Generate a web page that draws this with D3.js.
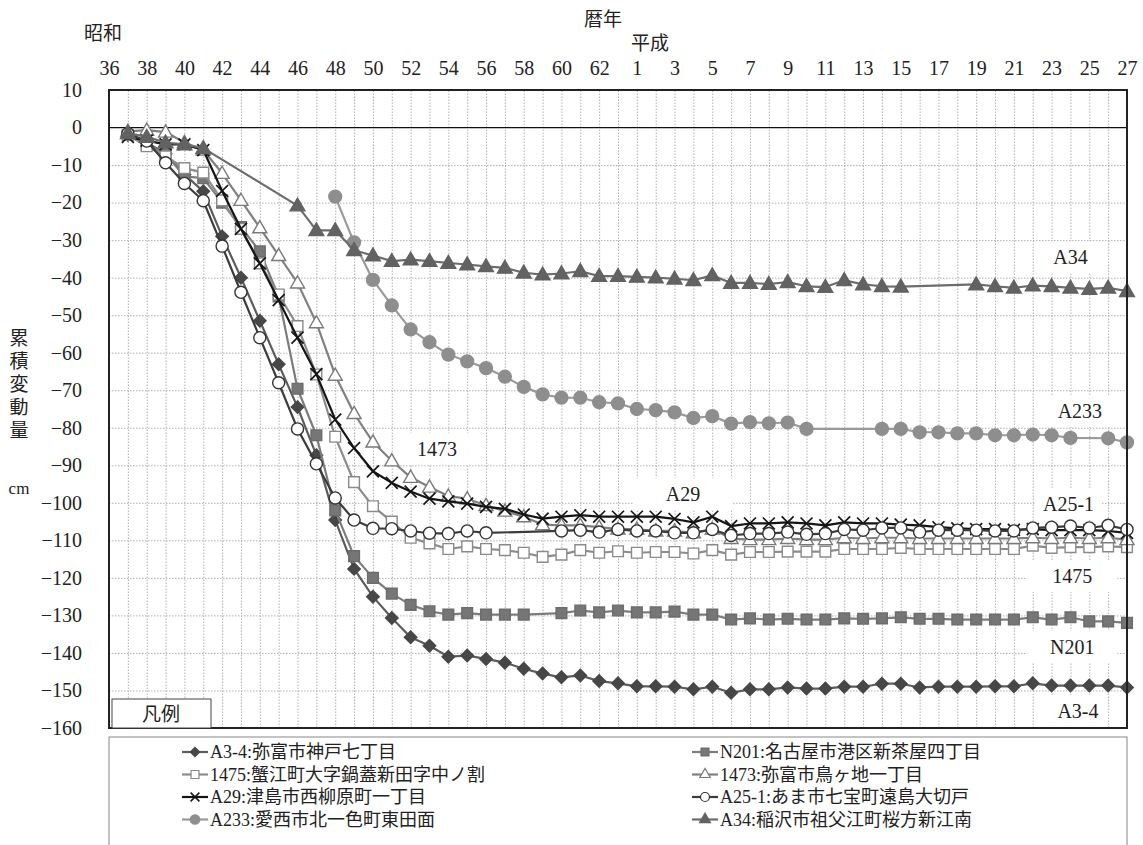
<!DOCTYPE html>
<html><head><meta charset="utf-8">
<script src="https://cdn.jsdelivr.net/npm/d3@7/dist/d3.min.js"></script>
<style>
body{margin:0;background:#fff}
svg{display:block}
text{font-family:"Liberation Serif","Noto Sans CJK JP",serif;fill:#222}
</style>
</head><body>
<script>
// ---- data ----
const categories = ["36","37","38","39","40","41","42","43","44","45","46","47","48","49","50","51","52","53","54","55","56","57","58","59","60","61","62","63",
  "1","2","3","4","5","6","7","8","9","10","11","12","13","14","15","16","17","18","19","20","21","22","23","24","25","26","27"];
const tickLabels = ["36","38","40","42","44","46","48","50","52","54","56","58","60","62","1","3","5","7","9","11","13","15","17","19","21","23","25","27"];
const yTicks = [10,0,-10,-20,-30,-40,-50,-60,-70,-80,-90,-100,-110,-120,-130,-140,-150,-160];

const A3_4 = [null,-2,-4,-7,-12.5,-17,-29,-40,-51.5,-63.1,-74.5,-87.3,-104.6,-117.6,-125,-130.7,-135.8,-138.1,-141,-140.7,-141.6,-142.6,-144.2,-145.5,-146.5,-146,-147.5,-148.1,
  -148.9,-148.9,-149,-149.7,-149,-150.6,-149.7,-149.7,-149.2,-149.5,-149.5,-149,-149,-148.2,-148.2,-149.2,-149,-149,-149,-148.9,-148.9,-148.1,-148.7,-148.7,-148.7,-148.7,-149.2];
const N201 = [null,-2,-4.5,-7,-13,-13.5,-20,-26.5,-33,-45,-69.6,-82,-102,-114.2,-120,-124.2,-127.2,-128.9,-129.8,-129.4,-129.8,-129.8,-129.8,null,-129.4,-128.7,-129.2,-128.7,
  -129.2,-129.2,-129,-129.8,-129.8,-131.1,-130.8,-131.1,-130.9,-131.1,-131.1,-130.8,-130.9,-130.8,-130.5,-130.9,-130.9,-131.1,-131.1,-131.1,-131.1,-130.5,-131.1,-130.5,-131.6,-131.6,-132];
const S1475 = [null,-2,-5,-7.7,-10.8,-12,-19.4,-27,-36.2,-44.5,-52.9,-65.8,-82.4,-94.5,-100.9,-105,-109.3,-110.8,-112.3,-111.6,-112.3,-112.6,-113.3,-114.4,-113.8,-112.6,-113.3,-112.9,
  -113.3,-113.1,-113.1,-113.5,-112.6,-113.8,-113.1,-113.1,-113,-113,-113,-112.3,-112.3,-112.3,-112,-112.3,-112.3,-112.3,-112.3,-112.3,-112.3,-111.4,-112,-111.8,-111.8,-111.6,-111.8];
const S1473 = [null,-1,-0.7,-1.2,-4,-6,-12.2,-19.4,-26.7,-34.1,-41.4,-52,-66,-76.2,-83.8,-88.8,-93.2,-95.8,-98.2,-98.9,-100.7,-102.2,-103.7,-105.8,-106,-106,-106.5,-107,
  -107,-107.5,-107.5,-108,-107,-109.5,-109.8,-109.8,-109.5,-109.8,-109.8,-109.3,-109.5,-109.3,-109.3,-109.5,-109.5,-109.5,-109.5,-109.5,-109.5,-109.3,-109.5,-109.3,-109.5,-109.3,-109.8];
const A29 = [null,-2.5,-3.5,-4.5,-4.5,-6,-16.9,-27,-36.2,-46,-56,-65.7,-77.8,-85.4,-91.6,-94.7,-97,-98.9,-99.6,-100.2,-101.1,-101.6,-103.1,-104.2,-103.7,-103.3,-103.7,-103.7,
  -103.7,-103.7,-104.3,-105.2,-103.7,-106.2,-105.5,-105.5,-105.2,-105.5,-106,-105.2,-105.5,-105.5,-105.8,-106,-106.5,-106.8,-107,-107,-107.2,-107,-107.3,-107.3,-107.3,-107.5,-108];
const A25_1 = [null,-1.6,-3.6,-9.4,-14.9,-19.5,-31.6,-43.9,-56,-68,-80.3,-89.6,-98.7,-104.6,-106.8,-106.9,-107.5,-108.1,-108.2,-107.5,-108,null,null,null,-107.5,-107.3,-107.8,-107.1,
  -107.5,-107.5,-108,-108,-107.1,-108.7,-108.2,-108.2,-107.8,-108.4,-108.2,-107.1,-107.3,-106.7,-106.7,-107.8,-107.3,-107.3,-107.3,-107.5,-107.5,-106.7,-106.5,-106.2,-106.7,-106,-107.1];
const A233 = [null,null,null,null,null,null,null,null,null,null,null,null,-18.4,-30.6,-40.6,-47.4,-53.8,-57.2,-60.5,-62.3,-64.1,-66.4,-69.1,-71.1,-72,-72,-73.2,-73.5,
  -75,-75.3,-75.9,-77.4,-76.9,-78.9,-78.5,-78.8,-78.6,-80.3,null,null,null,-80.3,-80.3,-81.2,-81.2,-81.5,-81.5,-82,-82,-81.8,-82,-82.7,null,-82.8,-83.9];
const A34 = [null,-1.5,-2.5,-4,-4.5,-5.5,null,null,null,null,-20.8,-27.4,-27.4,-32.7,-34.1,-35.6,-35.2,-35.6,-36.1,-36.5,-37,-37.4,-38.7,-39.2,-38.9,-38.3,-39.6,-39.6,
  -39.8,-40,-40.3,-40.7,-39.4,-41.4,-41.4,-41.7,-41.2,-42.3,-42.5,-40.7,-41.8,-42.3,-42.4,null,null,null,-41.8,-42.3,-42.7,-42.1,-42.3,-42.7,-43,-42.7,-43.6];

const seriesNames = ["A3-4:弥富市神戸七丁目","N201:名古屋市港区新茶屋四丁目","1475:蟹江町大字鍋蓋新田字中ノ割","1473:弥富市鳥ヶ地一丁目",
  "A29:津島市西柳原町一丁目","A25-1:あま市七宝町遠島大切戸","A233:愛西市北一色町東田面","A34:稲沢市祖父江町桜方新江南"];
const seriesValues = [A3_4, N201, S1475, S1473, A29, A25_1, A233, A34];

// in-chart labels: text, category index, value
const tagText = ["A34","A233","A25-1","1475","N201","A3-4","1473","A29"];
const tagIdx  = [51,51.5,50.9,51.1,51.1,51.4,17.4,30.45];
const tagVal  = [-34.6,-75.5,-100.3,-119.5,-138.4,-155.4,-85.7,-97.7];

// ---- styles ----
const styles = [
  {line:"#5c5c5c", fill:"#474747", stroke:"#474747", type:"diamond", size:78},
  {line:"#7c7c7c", fill:"#767676", stroke:"#6c6c6c", type:"square", size:115},
  {line:"#8c8c8c", fill:"#fff", stroke:"#8a8a8a", type:"square", size:115},
  {line:"#808080", fill:"#fff", stroke:"#7a7a7a", type:"triangle", size:85},
  {line:"#151515", fill:"none", stroke:"#151515", type:"x", size:95},
  {line:"#3c3c3c", fill:"#fff", stroke:"#333", type:"circle", size:115},
  {line:"#9a9a9a", fill:"#8e8e8e", stroke:"#8e8e8e", type:"circle", size:130},
  {line:"#6c6c6c", fill:"#626262", stroke:"#626262", type:"triangle", size:95}
];
const tagW = [55,71,67,90,90,57,63,100];

const W=1143, H=845;
const L=109, T=90, R=1127, B=728;
const svg = d3.select("body").append("svg").attr("width",W).attr("height",H);

const x = d3.scalePoint().domain(categories.map((c,i)=>i)).range([L,R]);
const xLin = d3.scaleLinear().domain([0,categories.length-1]).range([L,R]);
const y = d3.scaleLinear().domain([-160,10]).range([B,T]);

// gridlines
const grid = svg.append("g");
grid.append("g").attr("transform",`translate(${L},0)`)
  .call(d3.axisLeft(y).tickValues(yTicks.filter(v=>v>-160 && v<10 && v!==0)).tickSize(-(R-L)).tickFormat(""))
  .call(g=>g.select(".domain").remove())
  .call(g=>g.selectAll("line").attr("stroke","#b0b0b0").attr("stroke-dasharray","1.5,1.5"));
grid.append("g").attr("transform",`translate(0,${B})`)
  .call(d3.axisBottom(x).tickValues(d3.range(1,categories.length-1)).tickSize(-(B-T)).tickFormat(""))
  .call(g=>g.select(".domain").remove())
  .call(g=>g.selectAll("line").attr("stroke","#b0b0b0").attr("stroke-dasharray","1.5,1.5"));

// zero line
svg.append("line").attr("x1",L).attr("x2",R).attr("y1",y(0)).attr("y2",y(0)).attr("stroke","#111").attr("stroke-width",1.3);

// tag boxes
const tags = svg.append("g");
tagText.forEach((t,i)=>{
  const cx = xLin(tagIdx[i]);
  const cy = y(tagVal[i]);
  tags.append("rect").attr("x",cx-tagW[i]/2).attr("y",cy-16).attr("width",tagW[i]).attr("height",32).attr("fill","#fff");
  tags.append("text").attr("x",cx).attr("y",cy).attr("dy","0.35em").attr("text-anchor","middle")
    .attr("font-size",20).text(t);
});

// symbols
function symPath(type,size){
  if(type==="diamond" || type==="square") return d3.symbol().type(d3.symbolSquare).size(size)();
  if(type==="triangle") return d3.symbol().type(d3.symbolTriangle).size(size)();
  if(type==="x") return d3.symbol().type(d3.symbolTimes).size(size)();
  return d3.symbol().type(d3.symbolCircle).size(size)();
}

const lineGen = d3.line().x(d=>x(d.i)).y(d=>y(d.v));
seriesValues.forEach((vals,si)=>{
  const st = styles[si];
  const pts = vals.map((v,i)=>({i,v})).filter(d=>d.v!==null);
  const g = svg.append("g");
  g.append("path").datum(pts).attr("d",lineGen).attr("fill","none").attr("stroke",st.line).attr("stroke-width",2.2).attr("stroke-linejoin","round");
  g.selectAll("path.m").data(pts).join("path").attr("class","m")
    .attr("d",symPath(st.type,st.size))
    .attr("transform",d=>`translate(${x(d.i)},${y(d.v)})${st.type==="diamond"?" rotate(45)":""}${st.type==="triangle"?" translate(0,1)":""}`)
    .attr("fill",st.fill).attr("stroke",st.stroke).attr("stroke-width",st.type==="x"?1.7:1.4);
});

// plot border
svg.append("rect").attr("x",L).attr("y",T).attr("width",R-L).attr("height",B-T).attr("fill","none").attr("stroke","#222").attr("stroke-width",2);

// y axis labels
svg.append("g").attr("transform",`translate(${L},0)`)
  .call(d3.axisLeft(y).tickValues(yTicks).tickSize(0).tickPadding(27).tickFormat(d=>String(d).replace("-","−")))
  .call(g=>g.select(".domain").remove())
  .call(g=>g.selectAll("text").attr("font-size",20).attr("font-family","Liberation Serif").attr("fill","#222"));

// top axis labels
const topIdx = categories.map((c,i)=>i).filter(i=>tickLabels.includes(categories[i]) && (i<28 ? +categories[i]%2===0 : +categories[i]%2===1));
svg.append("g").attr("transform",`translate(0,${T})`)
  .call(d3.axisTop(x).tickValues(topIdx).tickSize(0).tickPadding(15).tickFormat(i=>categories[i]))
  .call(g=>g.select(".domain").remove())
  .call(g=>g.selectAll("text").attr("font-size",20).attr("font-family","Liberation Serif").attr("fill","#222"));

// era / axis titles
const t = (s,xx,yy,fs,anchor)=>svg.append("text").attr("x",xx).attr("y",yy).attr("dy","0.35em").attr("font-size",fs).attr("text-anchor",anchor||"middle").text(s);
t("昭和",103,33,19);
t("暦年",603,19,19);
t("平成",650,43,19);
["累","積","変","動","量"].forEach((c,i)=>t(c,19,338+i*23,19));
t("cm",19,488,17);

// 凡例 box
svg.append("rect").attr("x",112).attr("y",699).attr("width",99).attr("height",29).attr("fill","#fff").attr("stroke","#444").attr("stroke-width",1);
t("凡例",161,714,19);

// legend
svg.append("rect").attr("x",L).attr("y",737).attr("width",R-L).attr("height",120).attr("fill","#fff").attr("stroke","#888").attr("stroke-width",1);
seriesNames.forEach((name,si)=>{
  const col = si%2, row = Math.floor(si/2);
  const lx = col===0 ? 182 : 692;
  const ly = 752 + row*22.5;
  const st = styles[si];
  const g = svg.append("g");
  g.append("line").attr("x1",lx).attr("x2",lx+26).attr("y1",ly).attr("y2",ly).attr("stroke",st.line).attr("stroke-width",2.2);
  g.append("path").attr("d",symPath(st.type,st.size*0.55))
    .attr("transform",`translate(${lx+13},${ly})${st.type==="diamond"?" rotate(45)":""}`)
    .attr("fill",st.fill).attr("stroke",st.stroke).attr("stroke-width",st.type==="x"?1.5:1.2);
  g.append("text").attr("x",lx+28).attr("y",ly).attr("dy","0.35em").attr("font-size",18).text(name);
});
</script>
</body></html>
